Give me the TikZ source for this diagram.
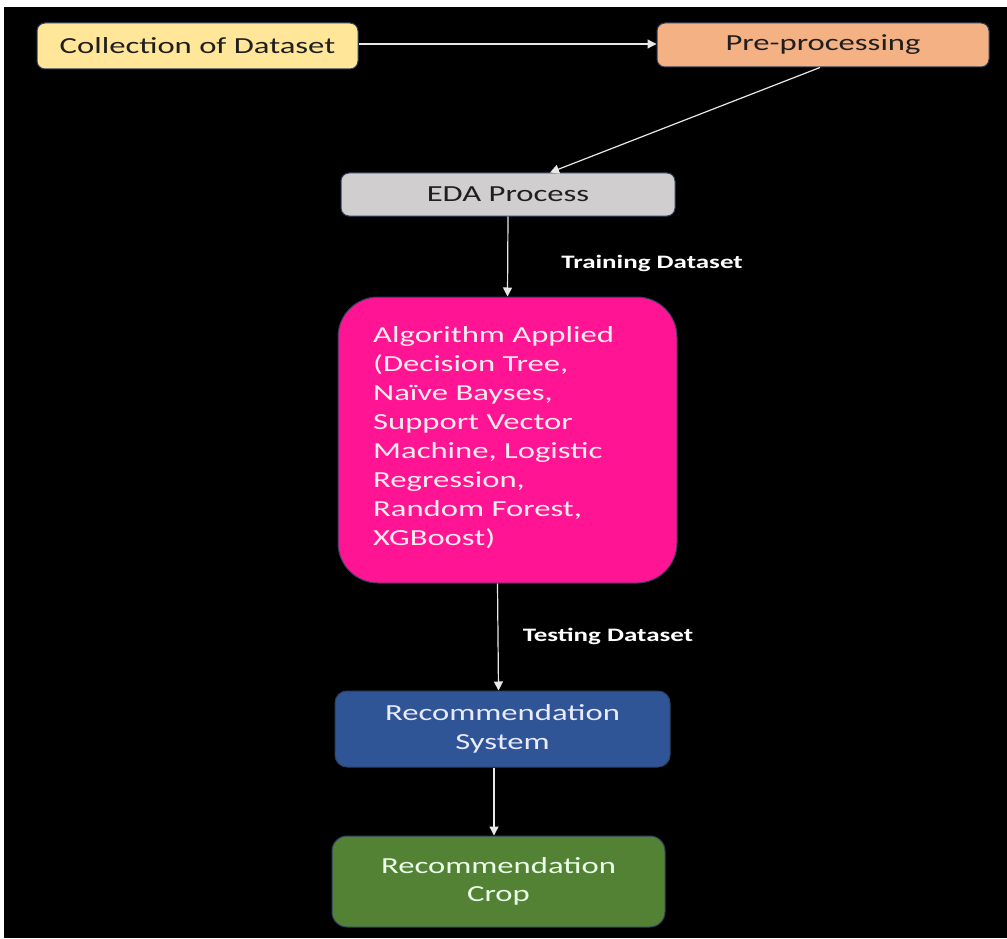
\documentclass[tikz,border=0pt]{standalone}
\usepackage{fontspec}
\setmainfont{Carlito}[FakeStretch=1.42]
\usetikzlibrary{arrows.meta,calc}
\definecolor{cYellow}{HTML}{FFE699}
\definecolor{cOrange}{HTML}{F4B183}
\definecolor{cGrey}{HTML}{D0CECE}
\definecolor{cPink}{HTML}{FF1493}
\definecolor{cBlue}{HTML}{2F5597}
\definecolor{cGreen}{HTML}{548235}
\definecolor{cEdge}{HTML}{2F3F5F}
\definecolor{cLine}{HTML}{E8E8E8}
\tikzset{
  box/.style={draw=cEdge, line width=1pt, rounded corners=8pt, inner sep=0pt, align=center, font=\fontsize{23}{28.5}\selectfont},
  conn/.style={draw=cLine, line width=1.2pt, -{Triangle[width=9pt,length=9pt]}},
  lbl/.style={text=white, font=\fontsize{19}{22}\selectfont\bfseries, inner sep=0pt},
}
\begin{document}
\begin{tikzpicture}[x=1pt,y=-1pt]
\fill[white] (0,0) rectangle (1007,939);
\fill[black] (4,7) rectangle (1007,938);
\useasboundingbox (0,0) rectangle (1007,939);

\node[box, fill=cYellow, text=black!88, minimum width=321pt, minimum height=46pt] (coll) at (197.5,46) {Collection of Dataset};
\node[box, fill=cOrange, text=black!88, minimum width=332pt, minimum height=44pt] (pre) at (823,45) {Pre-processing};
\node[box, fill=cGrey, text=black!88, minimum width=334pt, minimum height=43pt] (eda) at (508,194.5) {EDA Process};
\node[box, fill=cPink, rounded corners=40pt, minimum width=339pt, minimum height=286pt] (alg) at (507.5,440) {};
\node[anchor=north west, inner sep=0pt, text=pink!30, align=left, font=\fontsize{23}{29}\selectfont] (algtext) at (373,326)
  {Algorithm Applied\\(Decision Tree,\\Naïve Bayses,\\Support Vector\\Machine, Logistic\\Regression,\\Random Forest,\\XGBoost)};
\node[box, fill=cBlue, text=blue!8, rounded corners=12pt, minimum width=335pt, minimum height=76pt] (rs) at (502.5,729) {Recommendation\\System};
\node[box, fill=cGreen, text=green!8, rounded corners=15pt, minimum width=333pt, minimum height=91pt] (crop) at (498.5,881.5) {Recommendation\\Crop};

\node[lbl] (train) at (652,263) {Training Dataset};
\node[lbl] (test) at (608,636) {Testing Dataset};

\draw[conn] ([yshift=2pt]coll.east) -- ([yshift=1pt]pre.west);
\draw[conn] ([xshift=-3pt]pre.south) -- ([xshift=42pt]eda.north);
\draw[conn] (eda.south) -- (alg.north);
\draw[conn] ([xshift=-10pt]alg.south) -- ([xshift=-4pt]rs.north);
\draw[conn] ([xshift=-8.5pt]rs.south) -- ([xshift=-4.5pt]crop.north);
\end{tikzpicture}
\end{document}
